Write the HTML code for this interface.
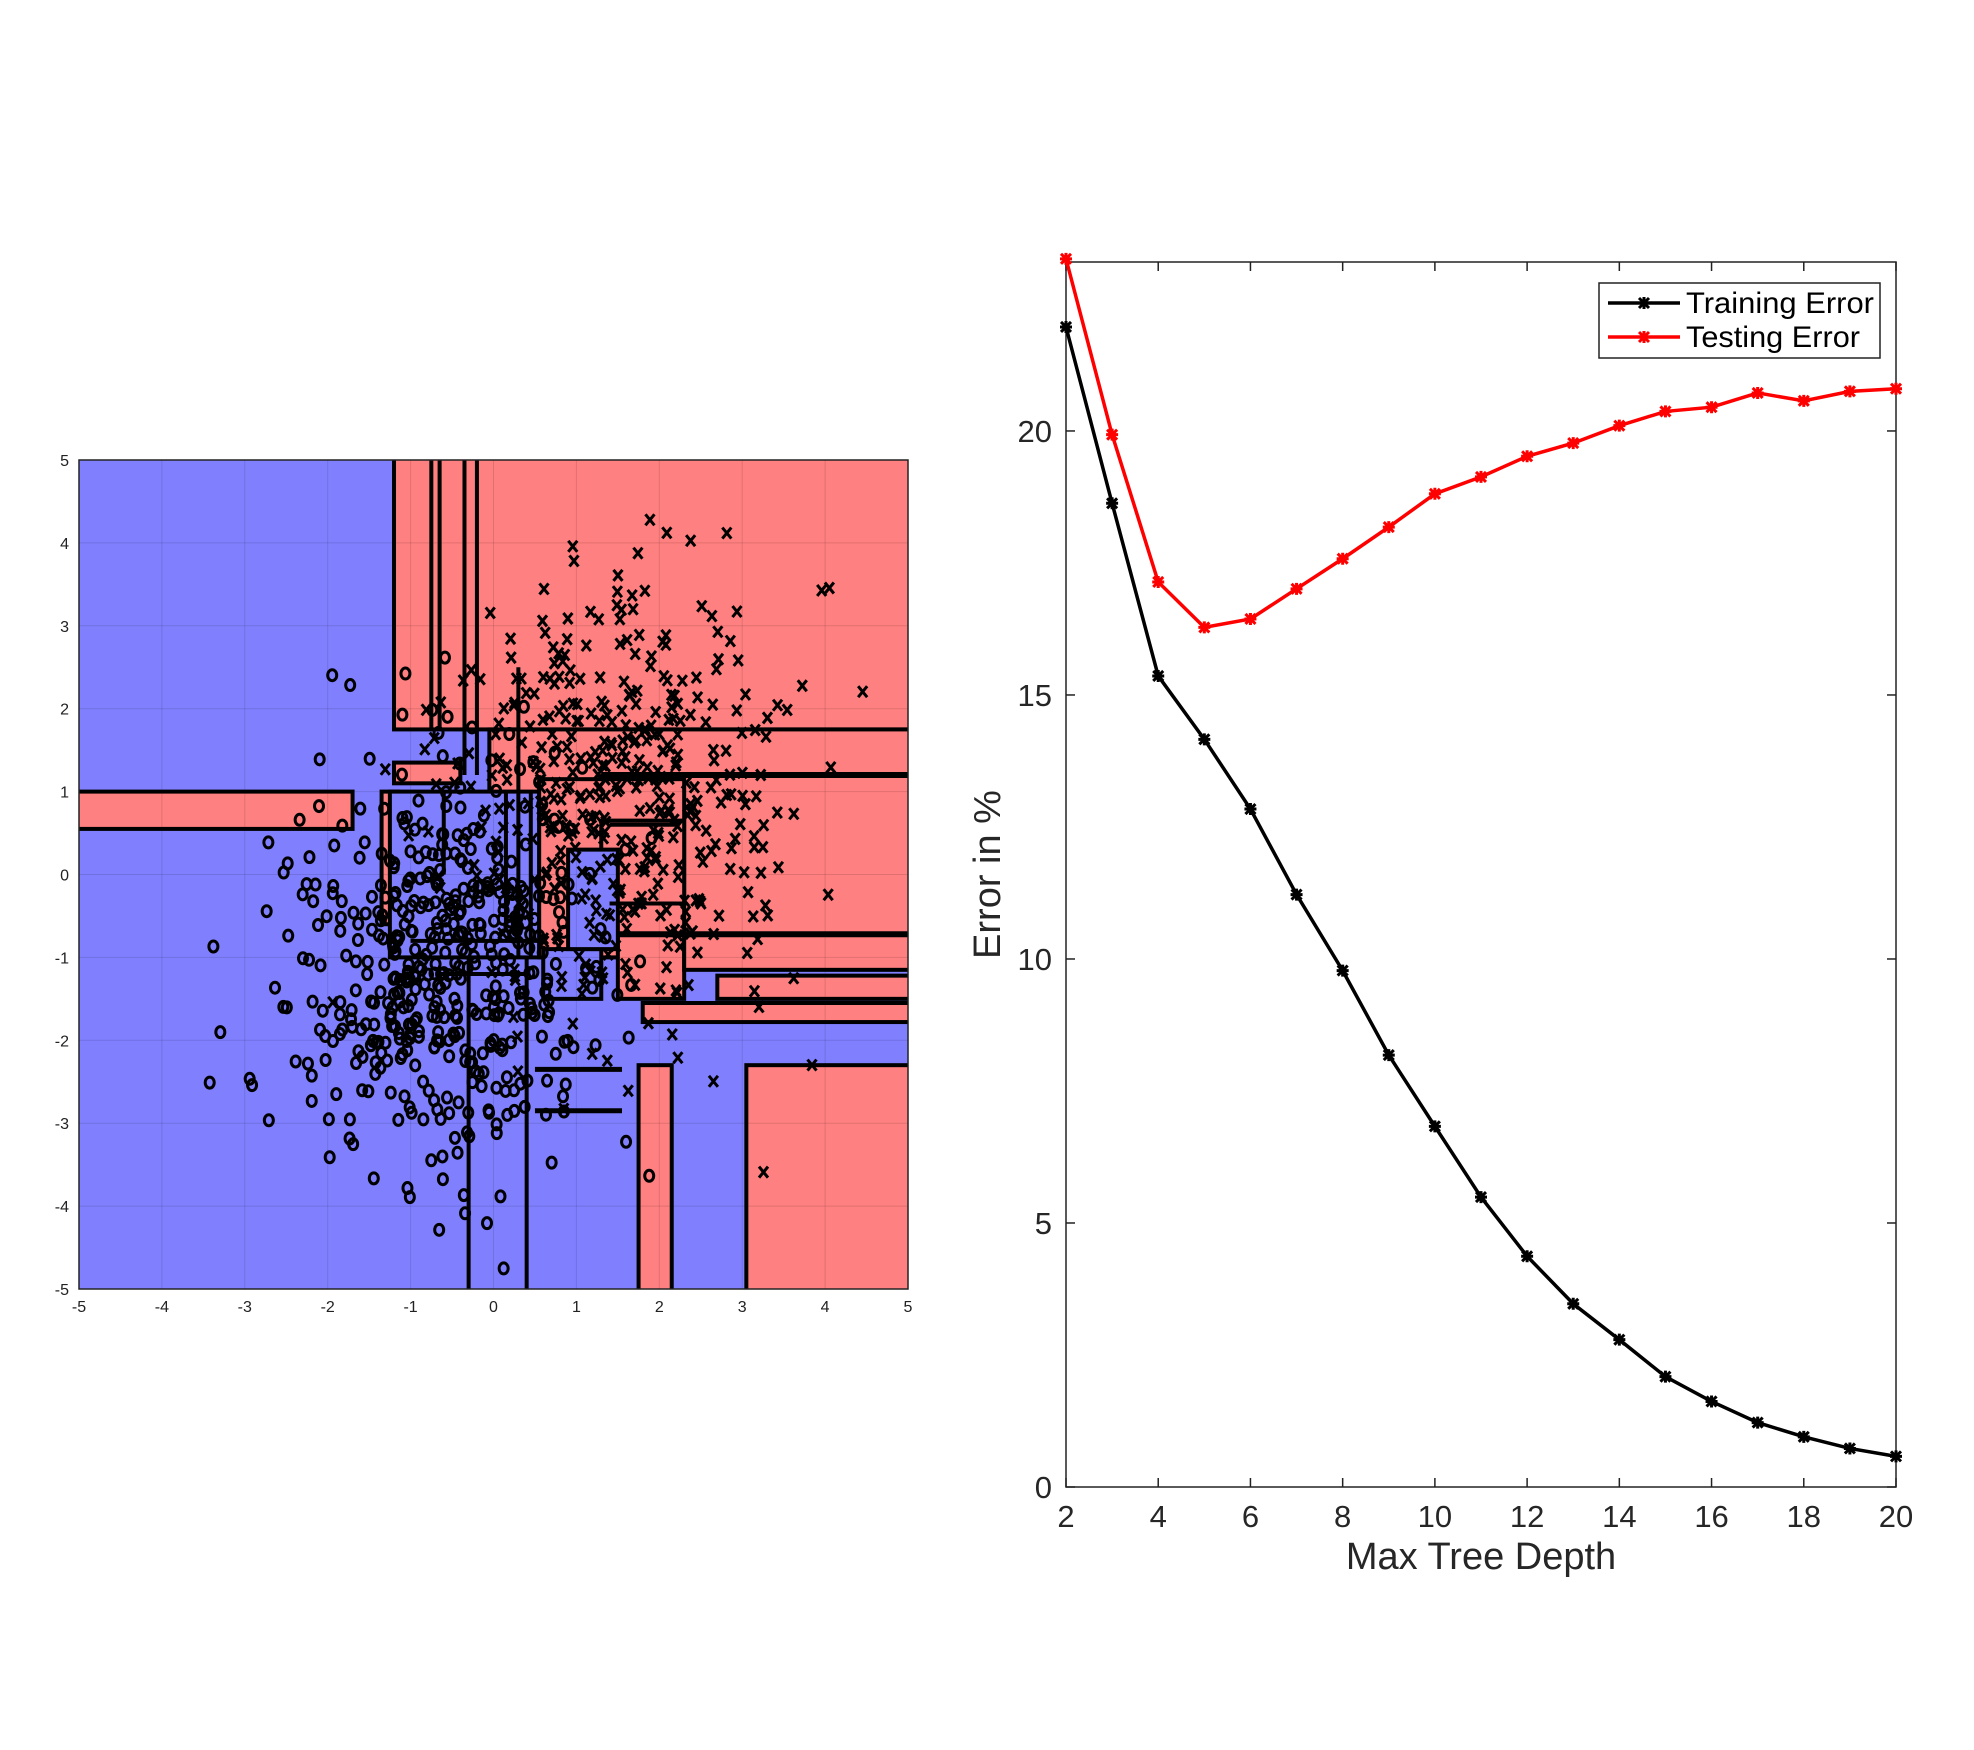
<!DOCTYPE html>
<html><head><meta charset="utf-8"><style>html,body{margin:0;padding:0;background:#fff}svg{display:block}</style></head>
<body>
<svg id="s" width="1974" height="1750" xmlns="http://www.w3.org/2000/svg" font-family="Liberation Sans, sans-serif"></svg>
<script>
const S=document.getElementById('s');let h='';
const L=79,R=908,T=460,B=1289,k=82.9;
const X=x=>L+(x+5)*k,Y=y=>T+(5-y)*k;
h+=`<defs><clipPath id="cp"><rect x="${L}" y="${T}" width="${R-L}" height="${B-T}"/></clipPath></defs><g clip-path="url(#cp)">`;
h+=`<rect x="${L}" y="${T}" width="${R-L}" height="${B-T}" fill="#8080ff"/>`;
function rr(x1,x2,y1,y2,fill){h+=`<rect x="${X(x1)}" y="${Y(y2)}" width="${X(x2)-X(x1)}" height="${Y(y1)-Y(y2)}" fill="${fill}" stroke="#000" stroke-width="4"/>`;}
const red='#ff8080',blue='#8080ff';
rr(-1.2,5.2,1.75,5.2,red);
rr(-0.05,5.2,-0.72,1.75,red);
rr(0.55,2.3,-1.0,1.15,red);
rr(1.5,2.3,-1.5,-0.72,red);
rr(2.3,5.2,-1.15,-0.72,red);
rr(2.7,5.2,-1.5,-1.22,red);
rr(1.8,5.2,-1.78,-1.55,red);
rr(1.75,2.15,-5.2,-2.3,red);
rr(3.05,5.2,-5.2,-2.3,red);
rr(-5.2,-1.7,0.55,1.0,red);
rr(-1.2,-0.4,1.1,1.35,red);
rr(-1.35,-1.15,-0.6,1.0,red);
rr(-1.25,0.55,-1.0,1.0,blue);
rr(1.3,2.3,-0.35,0.65,red);
rr(0.6,1.3,-1.5,-0.9,blue);
rr(0.9,1.5,-0.9,0.3,blue);
function ln(x1,y1,x2,y2,w){h+=`<line x1="${X(x1)}" y1="${Y(y1)}" x2="${X(x2)}" y2="${Y(y2)}" stroke="#000" stroke-width="${w||4}"/>`;}
ln(-0.75,1.75,-0.75,5.2);ln(-0.65,1.75,-0.65,5.2);ln(-0.35,1.2,-0.35,5.2);ln(-0.2,1.2,-0.2,5.2);
ln(-0.3,-5.2,-0.3,-1);ln(0.4,-5.2,0.4,-1);ln(0.3,-1,0.3,2.5);ln(0.45,-1,0.45,1);
ln(1.5,-0.72,5.2,-0.72,6);ln(1.3,1.2,5.2,1.2,6);ln(0.5,-2.85,1.55,-2.85,5);ln(0.5,-2.35,1.55,-2.35,5);
ln(1.4,0.6,2.2,0.6);ln(1.4,-0.35,2.2,-0.35);ln(-1,-0.8,0.6,-0.8);ln(-0.7,-1.2,0.4,-1.2);ln(-0.6,0,-0.6,1);ln(0.15,-0.6,0.15,1);
for(let i=-4;i<=4;i++){h+=`<line x1="${X(i)}" y1="${T}" x2="${X(i)}" y2="${B}" stroke="#000" stroke-opacity="0.12" stroke-width="1"/><line x1="${L}" y1="${Y(i)}" x2="${R}" y2="${Y(i)}" stroke="#000" stroke-opacity="0.12" stroke-width="1"/>`;}
let sd=98765;const rnd=()=>{sd=(sd*1103515245+12345)%2147483648;return sd/2147483648;};
const gs=()=>{let u=rnd()||1e-9,v=rnd();return Math.sqrt(-2*Math.log(u))*Math.cos(2*Math.PI*v);};
for(let i=0;i<500;i++){let x=-0.55+gs()*0.95,y=-1.15+gs()*1.3;if(x<-5||x>5||y<-5||y>5)continue;h+=`<ellipse cx="${X(x)}" cy="${Y(y)}" rx="4.5" ry="5.5" fill="none" stroke="#000" stroke-width="3"/>`;}
for(let i=0;i<450;i++){let x=1.45+gs()*1.05,y=0.9+gs()*1.35;if(x<-5||x>5||y<-5||y>5)continue;let a=X(x),b=Y(y);h+=`<path d="M${a-4.5} ${b-5.5}L${a+4.5} ${b+5.5}M${a+4.5} ${b-5.5}L${a-4.5} ${b+5.5}" stroke="#000" stroke-width="3"/>`;}
h+=`</g><rect x="${L}" y="${T}" width="${R-L}" height="${B-T}" fill="none" stroke="#222" stroke-width="1.5"/>`;
for(let i=-5;i<=5;i++){h+=`<text x="${X(i)}" y="${B+23}" font-size="16" text-anchor="middle" fill="#222">${i}</text><text x="${L-10}" y="${Y(i)+6}" font-size="16" text-anchor="end" fill="#222">${i}</text>`;}
const L2=1066,R2=1896,T2=262,B2=1487,ym=23.2;
const X2=d=>L2+(d-2)/18*(R2-L2),Y2=v=>B2-v/ym*(B2-T2);
h+=`<rect x="${L2}" y="${T2}" width="${R2-L2}" height="${B2-T2}" fill="none" stroke="#222" stroke-width="1.5"/>`;
for(let d=2;d<=20;d+=2){h+=`<line x1="${X2(d)}" y1="${B2}" x2="${X2(d)}" y2="${B2-9}" stroke="#222" stroke-width="1.5"/><line x1="${X2(d)}" y1="${T2}" x2="${X2(d)}" y2="${T2+9}" stroke="#222" stroke-width="1.5"/><text x="${X2(d)}" y="${B2+40}" font-size="31" text-anchor="middle" fill="#262626">${d}</text>`;}
for(let v=0;v<=20;v+=5){h+=`<line x1="${L2}" y1="${Y2(v)}" x2="${L2+9}" y2="${Y2(v)}" stroke="#222" stroke-width="1.5"/><line x1="${R2}" y1="${Y2(v)}" x2="${R2-9}" y2="${Y2(v)}" stroke="#222" stroke-width="1.5"/><text x="${L2-14}" y="${Y2(v)+11}" font-size="31" text-anchor="end" fill="#262626">${v}</text>`;}
h+=`<text x="${(L2+R2)/2}" y="${B2+82}" font-size="38" text-anchor="middle" fill="#262626">Max Tree Depth</text>`;
h+=`<text transform="translate(1000,${(T2+B2)/2}) rotate(-90)" font-size="38" text-anchor="middle" fill="#262626">Error in %</text>`;
const te=[23.26,19.93,17.14,16.28,16.44,17.01,17.58,18.18,18.81,19.13,19.52,19.77,20.1,20.37,20.45,20.72,20.57,20.75,20.8];
const tr=[21.97,18.63,15.36,14.16,12.84,11.22,9.78,8.18,6.83,5.49,4.37,3.47,2.79,2.09,1.62,1.22,0.95,0.73,0.58];
function star(a,b,c){return `<path d="M${a-6} ${b}H${a+6}M${a} ${b-6}V${b+6}M${a-5} ${b-5}L${a+5} ${b+5}M${a+5} ${b-5}L${a-5} ${b+5}" stroke="${c}" stroke-width="3"/>`;}
function ser(arr,c){h+=`<polyline fill="none" stroke="${c}" stroke-width="3.5" points="${arr.map((v,i)=>X2(i+2)+','+Y2(v)).join(' ')}"/>`;arr.forEach((v,i)=>h+=star(X2(i+2),Y2(v),c));}
ser(tr,'#000');ser(te,'#f00');
h+=`<rect x="1599" y="283" width="281" height="75" fill="#fff" stroke="#222" stroke-width="1.5"/>`;
h+=`<line x1="1608" y1="303" x2="1680" y2="303" stroke="#000" stroke-width="3.5"/>`+star(1644,303,'#000');
h+=`<line x1="1608" y1="337" x2="1680" y2="337" stroke="#f00" stroke-width="3.5"/>`+star(1644,337,'#f00');
h+=`<text x="1686" y="313" font-size="30" fill="#000" textLength="188" lengthAdjust="spacingAndGlyphs">Training Error</text><text x="1686" y="347" font-size="30" fill="#000" textLength="174" lengthAdjust="spacingAndGlyphs">Testing Error</text>`;
S.innerHTML=h;
</script>
</body></html>
